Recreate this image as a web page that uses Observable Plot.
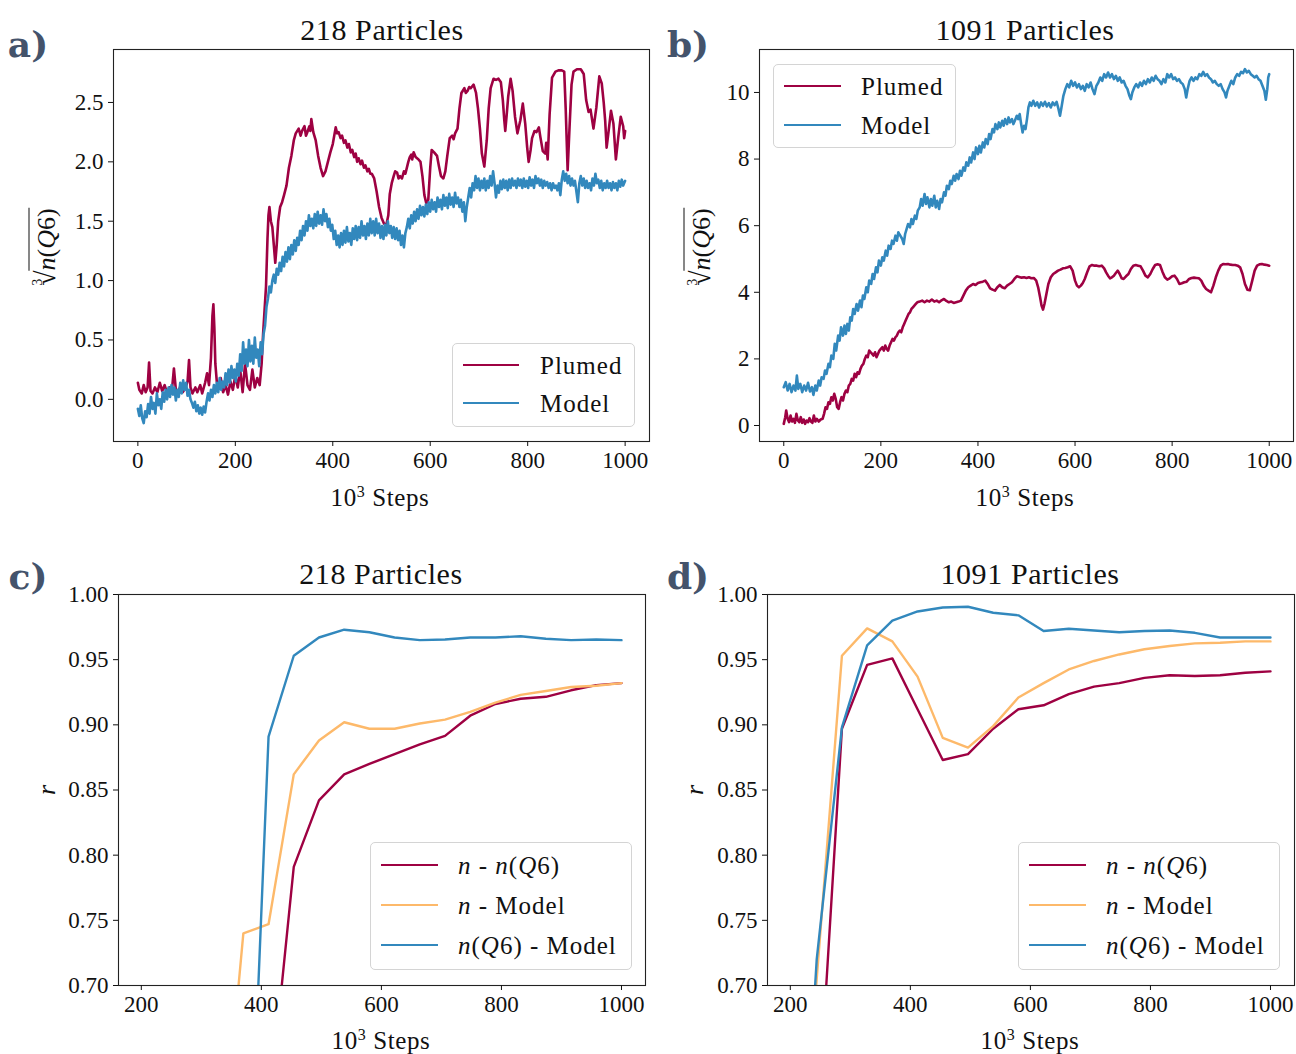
<!DOCTYPE html>
<html>
<head>
<meta charset="utf-8">
<script src="https://cdn.jsdelivr.net/npm/d3@7"></script>
<script src="https://cdn.jsdelivr.net/npm/@observablehq/plot@0.6"></script>
<style>
  body { margin: 0; background: #fff; }
  #root { position: relative; width: 1296px; height: 1054px; overflow: hidden; font-family: "Liberation Serif", serif; color: #111; }
  .lab { position: absolute; white-space: nowrap; line-height: 1; }
  .svgwrap { position: absolute; }
  .legend { position: absolute; border: 1px solid #d4d4d4; border-radius: 5px; background: rgba(255,255,255,0.85); box-sizing: border-box; }
  .legend .ln { position: absolute; height: 2.4px; }
  .legend .tx { position: absolute; font-size: 25px; letter-spacing: 1px; line-height: 1; transform: translateY(-50%); white-space: nowrap; }
</style>
</head>
<body>
<div id="root"></div>
<script>
// ---------------- DATA ----------------
const xTicksTop = [0, 200, 400, 600, 800, 1000];
const yTicksA = [0, 0.5, 1.0, 1.5, 2.0, 2.5];
const yTicksB = [0, 2, 4, 6, 8, 10];
const xTicksBottom = [200, 400, 600, 800, 1000];
const yTicksR = [0.70, 0.75, 0.80, 0.85, 0.90, 0.95, 1.00];

const titles = ["218 Particles", "1091 Particles", "218 Particles", "1091 Particles"];
const panelLetters = ["a)", "b)", "c)", "d)"];
const seriesTop = ["Plumed", "Model"];
const seriesBottom = ["<i>n</i> - <i>n</i>(<i>Q</i>6)", "<i>n</i> - Model", "<i>n</i>(<i>Q</i>6) - Model"];

// panel a: 218 particles, Plumed  [10^3 steps, cbrt n(Q6)]
const plumed218 = [[0,0.14],[3,0.08],[8,0.05],[12,0.12],[16,0.06],[20,0.10],[23,0.31],[26,0.07],[30,0.05],[35,0.10],[40,0.06],[45,0.14],[50,0.07],[55,0.12],[60,0.05],[65,0.10],[70,0.08],[74,0.26],[78,0.08],[82,0.05],[88,0.12],[92,0.06],[98,0.10],[102,0.15],[105,0.33],[108,0.10],[112,0.05],[118,0.10],[122,0.06],[128,0.12],[132,0.05],[138,0.14],[142,0.22],[146,0.12],[150,0.35],[153,0.70],[155,0.80],[157,0.60],[159,0.30],[162,0.15],[166,0.10],[170,0.18],[175,0.06],[180,0.12],[185,0.04],[190,0.15],[195,0.08],[200,0.20],[205,0.10],[210,0.25],[215,0.06],[220,0.30],[225,0.12],[230,0.08],[235,0.25],[240,0.10],[245,0.18],[250,0.12],[254,0.30],[257,0.55],[260,0.75],[263,0.95],[266,1.35],[268,1.55],[270,1.62],[273,1.50],[276,1.45],[279,1.30],[282,1.15],[285,1.30],[288,1.50],[292,1.62],[296,1.66],[300,1.72],[305,1.80],[310,1.95],[315,2.05],[320,2.18],[324,2.24],[330,2.28],[334,2.22],[337,2.26],[342,2.30],[345,2.22],[347,2.24],[352,2.30],[354,2.26],[356,2.36],[360,2.25],[365,2.18],[370,2.05],[375,1.95],[380,1.88],[385,1.92],[390,2.00],[395,2.08],[400,2.15],[406,2.29],[409,2.24],[412,2.25],[416,2.20],[419,2.22],[423,2.16],[426,2.18],[430,2.12],[433,2.15],[437,2.08],[440,2.10],[444,2.04],[447,2.07],[450,2.00],[453,2.03],[457,1.98],[460,2.01],[464,1.95],[467,1.97],[471,1.92],[474,1.94],[477,1.90],[480,1.90],[485,1.86],[490,1.75],[495,1.62],[500,1.53],[505,1.48],[510,1.47],[514,1.55],[517,1.73],[521,1.82],[525,1.88],[528,1.92],[532,1.91],[535,1.86],[538,1.88],[542,1.86],[546,1.92],[549,1.90],[555,2.00],[558,2.04],[561,2.06],[563,2.02],[566,2.08],[570,2.04],[576,2.02],[580,2.00],[584,1.88],[588,1.72],[592,1.65],[596,1.68],[600,1.95],[603,2.10],[608,2.08],[614,2.05],[618,1.96],[622,1.88],[627,1.86],[631,1.92],[635,2.05],[640,2.20],[645,2.22],[648,2.19],[651,2.24],[656,2.28],[660,2.45],[664,2.58],[670,2.62],[673,2.58],[677,2.60],[680,2.63],[683,2.62],[689,2.65],[694,2.58],[698,2.45],[702,2.28],[706,2.07],[711,1.96],[716,2.18],[720,2.45],[724,2.62],[730,2.70],[735,2.69],[740,2.70],[745,2.67],[749,2.52],[752,2.35],[754,2.26],[757,2.40],[760,2.55],[765,2.70],[769,2.60],[774,2.38],[779,2.24],[785,2.35],[790,2.49],[795,2.32],[799,2.12],[802,2.00],[806,2.10],[809,2.20],[814,2.26],[818,2.25],[823,2.29],[826,2.21],[831,2.09],[836,2.07],[838,2.16],[841,2.02],[845,2.40],[850,2.71],[857,2.76],[863,2.77],[870,2.77],[875,2.76],[878,2.45],[882,1.93],[886,2.30],[890,2.65],[894,2.76],[901,2.78],[909,2.78],[915,2.74],[920,2.52],[925,2.42],[929,2.44],[935,2.28],[941,2.46],[947,2.72],[952,2.66],[956,2.50],[959,2.35],[962,2.12],[967,2.29],[971,2.43],[976,2.32],[981,2.02],[986,2.21],[991,2.38],[996,2.30],[998,2.20],[1000,2.26]];

// panel a: 218 particles, Model
const model218 = [[0,-0.08],[3,-0.14],[6,-0.05],[9,-0.16],[12,-0.20],[15,-0.10],[18,-0.15],[21,-0.04],[24,-0.12],[27,0.02],[30,-0.08],[33,-0.03],[36,-0.12],[39,0.05],[42,-0.05],[45,0.00],[48,-0.08],[51,0.06],[54,-0.02],[57,0.08],[60,0.00],[63,0.10],[66,0.02],[69,0.12],[72,0.04],[75,0.10],[78,-0.01],[81,0.08],[84,0.02],[87,0.14],[90,0.05],[93,0.16],[96,0.08],[99,0.14],[102,0.03],[105,0.08],[108,0.00],[111,-0.03],[114,-0.07],[117,-0.02],[120,-0.10],[123,-0.05],[126,-0.12],[129,-0.07],[132,-0.13],[135,-0.06],[138,-0.11],[141,-0.02],[144,0.05],[147,-0.01],[150,0.08],[153,0.02],[156,0.12],[159,0.05],[162,0.14],[165,0.06],[168,0.18],[171,0.08],[174,0.15],[177,0.10],[180,0.22],[183,0.12],[186,0.25],[189,0.14],[192,0.28],[195,0.18],[198,0.25],[201,0.15],[204,0.30],[207,0.20],[210,0.38],[213,0.24],[216,0.48],[219,0.30],[222,0.42],[225,0.28],[228,0.50],[231,0.32],[234,0.45],[237,0.30],[240,0.52],[243,0.35],[246,0.42],[249,0.28],[252,0.48],[255,0.38],[258,0.55],[261,0.62],[264,0.78],[267,0.85],[270,0.95],[273,0.90],[276,1.00],[279,1.05],[282,0.98],[285,1.10],[288,1.05],[291,1.15],[294,1.08],[297,1.20],[300,1.12],[303,1.24],[306,1.16],[309,1.28],[312,1.18],[315,1.30],[318,1.22],[321,1.34],[324,1.25],[327,1.36],[330,1.30],[333,1.42],[336,1.34],[339,1.46],[342,1.38],[345,1.50],[348,1.42],[351,1.55],[354,1.46],[357,1.52],[360,1.44],[363,1.56],[366,1.46],[369,1.58],[372,1.48],[375,1.55],[378,1.47],[381,1.60],[384,1.50],[387,1.56],[390,1.45],[393,1.52],[396,1.42],[399,1.47],[402,1.35],[405,1.42],[408,1.30],[411,1.38],[414,1.28],[417,1.40],[420,1.30],[423,1.42],[426,1.32],[429,1.45],[432,1.33],[435,1.40],[438,1.30],[441,1.44],[444,1.35],[447,1.46],[450,1.34],[453,1.45],[456,1.36],[459,1.50],[462,1.38],[465,1.46],[468,1.35],[471,1.48],[474,1.38],[477,1.52],[480,1.40],[483,1.50],[486,1.38],[489,1.52],[492,1.40],[495,1.48],[498,1.36],[501,1.46],[504,1.35],[507,1.47],[510,1.38],[513,1.50],[516,1.40],[519,1.46],[522,1.36],[525,1.45],[528,1.35],[531,1.44],[534,1.34],[537,1.42],[540,1.30],[543,1.38],[546,1.28],[549,1.40],[552,1.45],[555,1.52],[558,1.44],[561,1.55],[564,1.48],[567,1.58],[570,1.50],[573,1.60],[576,1.52],[579,1.63],[582,1.55],[585,1.62],[588,1.54],[591,1.64],[594,1.56],[597,1.66],[600,1.58],[603,1.68],[606,1.60],[609,1.66],[612,1.58],[615,1.70],[618,1.62],[621,1.68],[624,1.60],[627,1.72],[630,1.63],[633,1.70],[636,1.61],[639,1.73],[642,1.64],[645,1.70],[648,1.62],[651,1.74],[654,1.65],[657,1.70],[660,1.62],[663,1.68],[666,1.58],[669,1.66],[672,1.50],[675,1.62],[678,1.70],[681,1.78],[684,1.70],[687,1.82],[690,1.76],[693,1.88],[696,1.78],[699,1.86],[702,1.76],[705,1.84],[708,1.78],[711,1.86],[714,1.76],[717,1.84],[720,1.78],[723,1.88],[726,1.80],[729,1.92],[732,1.82],[735,1.70],[738,1.80],[741,1.74],[744,1.84],[747,1.77],[750,1.85],[753,1.78],[756,1.84],[759,1.76],[762,1.85],[765,1.78],[768,1.86],[771,1.80],[774,1.84],[777,1.78],[780,1.86],[783,1.80],[786,1.85],[789,1.78],[792,1.86],[795,1.79],[798,1.84],[801,1.78],[804,1.87],[807,1.80],[810,1.85],[813,1.78],[816,1.88],[819,1.82],[822,1.86],[825,1.80],[828,1.85],[831,1.78],[834,1.84],[837,1.80],[840,1.83],[843,1.78],[846,1.82],[849,1.76],[852,1.82],[855,1.78],[858,1.80],[861,1.76],[864,1.82],[867,1.72],[870,1.85],[873,1.92],[876,1.84],[879,1.90],[882,1.82],[885,1.88],[888,1.80],[891,1.86],[894,1.80],[897,1.84],[900,1.75],[903,1.66],[906,1.82],[909,1.88],[912,1.80],[915,1.86],[918,1.78],[921,1.84],[924,1.78],[927,1.82],[930,1.76],[933,1.86],[936,1.80],[939,1.90],[942,1.82],[945,1.85],[948,1.78],[951,1.84],[954,1.76],[957,1.82],[960,1.78],[963,1.84],[966,1.78],[969,1.82],[972,1.76],[975,1.83],[978,1.78],[981,1.82],[984,1.76],[987,1.84],[990,1.79],[993,1.85],[996,1.80],[1000,1.84]];

// panel b: 1091 particles, Plumed
const plumed1091 = [[0,0.05],[3,0.25],[5,0.45],[8,0.20],[11,0.10],[14,0.30],[17,0.12],[20,0.20],[23,0.08],[26,0.35],[29,0.15],[32,0.10],[35,0.25],[38,0.08],[41,0.18],[44,0.05],[47,0.15],[50,0.10],[53,0.22],[56,0.12],[59,0.08],[62,0.30],[65,0.12],[68,0.20],[72,0.12],[76,0.18],[80,0.20],[83,0.35],[86,0.55],[89,0.50],[92,0.70],[95,0.65],[98,0.85],[101,0.75],[104,0.95],[107,0.80],[110,0.55],[113,0.50],[116,0.70],[119,0.85],[122,0.75],[125,0.95],[128,1.05],[131,1.00],[134,1.20],[137,1.25],[140,1.40],[143,1.35],[146,1.55],[149,1.45],[152,1.60],[155,1.55],[158,1.70],[161,1.80],[164,1.85],[167,2.00],[170,2.10],[173,2.05],[176,2.25],[179,2.20],[182,2.15],[185,2.10],[188,2.20],[191,2.05],[194,2.15],[197,2.25],[200,2.30],[203,2.35],[206,2.25],[209,2.40],[212,2.30],[215,2.25],[218,2.40],[221,2.50],[224,2.60],[227,2.55],[230,2.65],[233,2.70],[236,2.80],[239,2.85],[242,2.80],[245,2.95],[248,3.05],[251,3.15],[254,3.25],[257,3.35],[260,3.40],[263,3.50],[266,3.55],[269,3.60],[272,3.65],[275,3.70],[280,3.72],[285,3.75],[290,3.70],[295,3.75],[300,3.72],[305,3.78],[310,3.72],[315,3.75],[320,3.70],[325,3.76],[330,3.80],[335,3.74],[340,3.70],[345,3.72],[350,3.68],[355,3.70],[360,3.72],[365,3.75],[370,3.90],[375,4.05],[380,4.15],[385,4.20],[390,4.25],[395,4.22],[400,4.28],[405,4.30],[410,4.32],[415,4.35],[420,4.25],[425,4.12],[430,4.08],[435,4.05],[440,4.15],[445,4.22],[450,4.15],[455,4.12],[460,4.20],[465,4.25],[470,4.30],[475,4.40],[480,4.48],[485,4.46],[490,4.44],[495,4.45],[500,4.43],[505,4.45],[510,4.42],[515,4.43],[520,4.35],[524,4.15],[528,3.85],[531,3.60],[534,3.48],[537,3.65],[541,3.95],[545,4.25],[550,4.45],[555,4.55],[560,4.60],[565,4.65],[570,4.68],[575,4.72],[580,4.73],[585,4.75],[590,4.78],[595,4.65],[600,4.35],[604,4.20],[608,4.15],[612,4.20],[616,4.28],[620,4.40],[625,4.60],[630,4.78],[635,4.82],[640,4.80],[645,4.80],[650,4.78],[655,4.80],[660,4.72],[664,4.60],[668,4.50],[672,4.42],[676,4.45],[680,4.50],[684,4.58],[688,4.65],[692,4.55],[696,4.42],[700,4.40],[705,4.48],[710,4.55],[715,4.70],[720,4.80],[725,4.82],[730,4.80],[735,4.78],[740,4.65],[745,4.50],[750,4.45],[755,4.55],[760,4.70],[765,4.82],[770,4.84],[775,4.82],[780,4.62],[785,4.45],[790,4.38],[795,4.42],[800,4.48],[805,4.50],[810,4.40],[815,4.25],[820,4.27],[825,4.30],[830,4.32],[835,4.40],[840,4.43],[845,4.44],[850,4.43],[855,4.42],[860,4.35],[865,4.20],[870,4.10],[875,4.05],[880,4.00],[885,4.20],[890,4.45],[895,4.65],[900,4.80],[905,4.85],[910,4.84],[915,4.85],[920,4.83],[925,4.82],[930,4.82],[935,4.80],[940,4.75],[945,4.55],[950,4.25],[955,4.08],[960,4.06],[965,4.35],[970,4.65],[975,4.80],[980,4.84],[985,4.85],[990,4.83],[995,4.82],[1000,4.80]];

// panel b: 1091 particles, Model
const model1091 = [[0,1.15],[4,1.30],[8,1.05],[12,1.25],[16,1.00],[20,1.20],[24,1.05],[27,1.50],[30,1.10],[34,1.25],[38,1.00],[42,1.20],[46,1.05],[50,1.28],[54,1.02],[58,1.15],[61,0.92],[65,1.20],[68,1.05],[72,1.35],[75,1.20],[78,1.45],[82,1.40],[85,1.65],[88,1.55],[92,1.85],[95,1.75],[98,2.10],[102,2.00],[105,2.45],[108,2.25],[112,2.70],[115,2.55],[118,2.95],[122,2.70],[125,3.00],[128,2.75],[131,3.05],[134,2.85],[137,3.25],[140,3.15],[143,3.50],[146,3.35],[150,3.65],[153,3.45],[157,3.75],[160,3.55],[163,3.90],[166,3.80],[170,4.15],[173,4.00],[176,4.35],[180,4.25],[183,4.55],[186,4.40],[190,4.75],[193,4.60],[196,4.95],[200,4.80],[203,5.05],[206,4.95],[210,5.25],[213,5.10],[216,5.40],[220,5.30],[223,5.55],[226,5.45],[230,5.70],[233,5.55],[236,5.80],[240,5.70],[244,5.60],[247,5.45],[250,5.75],[253,5.90],[256,6.05],[260,5.95],[263,6.20],[266,6.05],[270,6.30],[273,6.20],[276,6.45],[280,6.55],[283,6.80],[286,6.60],[290,6.95],[293,6.65],[296,6.85],[300,6.55],[303,6.80],[306,6.60],[310,6.90],[313,6.55],[316,6.75],[320,6.50],[323,6.80],[326,6.70],[330,7.00],[333,6.90],[336,7.20],[340,7.10],[343,7.35],[346,7.25],[350,7.50],[353,7.35],[356,7.55],[360,7.40],[363,7.65],[366,7.50],[370,7.75],[373,7.65],[376,7.90],[380,7.80],[383,8.05],[386,7.90],[390,8.20],[393,8.00],[396,8.35],[400,8.15],[403,8.40],[406,8.20],[410,8.50],[413,8.35],[416,8.60],[420,8.45],[423,8.75],[426,8.60],[430,8.90],[433,8.80],[436,9.05],[440,8.90],[443,9.10],[446,8.95],[450,9.15],[453,9.00],[456,9.20],[460,9.05],[463,9.25],[466,9.10],[470,9.20],[473,9.05],[476,9.15],[480,9.30],[483,9.20],[486,9.35],[489,9.05],[492,8.80],[495,9.00],[498,8.90],[501,9.20],[504,9.55],[507,9.70],[510,9.60],[514,9.75],[518,9.60],[522,9.70],[526,9.55],[530,9.70],[534,9.60],[538,9.72],[542,9.58],[546,9.68],[550,9.55],[554,9.70],[558,9.62],[562,9.72],[566,9.50],[569,9.30],[572,9.55],[576,9.90],[580,10.10],[584,10.25],[588,10.15],[592,10.35],[596,10.20],[600,10.30],[604,10.15],[608,10.25],[612,10.10],[616,10.20],[620,10.05],[624,10.25],[628,10.15],[632,10.30],[636,10.10],[640,9.95],[644,10.20],[648,10.30],[652,10.45],[656,10.35],[660,10.55],[664,10.45],[668,10.60],[672,10.45],[676,10.55],[680,10.40],[684,10.50],[688,10.35],[692,10.45],[696,10.30],[700,10.35],[704,10.20],[708,10.10],[712,9.90],[715,9.80],[718,10.00],[722,10.15],[726,10.25],[730,10.15],[734,10.30],[738,10.20],[742,10.35],[746,10.25],[750,10.40],[754,10.30],[758,10.45],[762,10.35],[766,10.50],[770,10.40],[774,10.35],[778,10.25],[782,10.40],[786,10.30],[790,10.55],[794,10.45],[798,10.55],[802,10.40],[806,10.45],[810,10.35],[814,10.40],[818,10.30],[822,10.25],[826,10.10],[829,9.85],[832,10.10],[836,10.35],[840,10.45],[844,10.35],[848,10.45],[852,10.40],[856,10.55],[860,10.50],[864,10.62],[868,10.50],[872,10.55],[876,10.45],[880,10.40],[884,10.30],[888,10.35],[892,10.25],[896,10.20],[900,10.25],[904,10.10],[908,10.00],[911,9.85],[914,10.05],[918,10.20],[922,10.35],[926,10.25],[930,10.45],[934,10.55],[938,10.50],[942,10.62],[946,10.58],[950,10.70],[954,10.60],[958,10.65],[962,10.55],[966,10.50],[970,10.45],[974,10.50],[978,10.40],[982,10.35],[986,10.20],[990,10.05],[993,9.78],[996,10.10],[998,10.45],[1000,10.55]];

// panels c, d: correlation r vs 10^3 steps (null = below the visible range, not read)
const stepsR = [202, 244, 286, 328, 370, 412, 454, 496, 538, 580, 622, 664, 706, 748, 790, 832, 874, 916, 958, 1000];
const rNQ6_218   = [null, null, null, null, null, 0.60, 0.791, 0.842, 0.862, 0.870, 0.8775, 0.885, 0.8915, 0.907, 0.916, 0.920, 0.9215, 0.9265, 0.9305, 0.932];
const rNModel_218 = [null, null, null, 0.53, 0.740, 0.747, 0.862, 0.888, 0.902, 0.897, 0.897, 0.901, 0.904, 0.910, 0.917, 0.923, 0.926, 0.929, 0.930, 0.932];
const rQ6Model_218 = [null, null, null, null, 0.42, 0.891, 0.953, 0.967, 0.973, 0.971, 0.967, 0.965, 0.9655, 0.967, 0.967, 0.968, 0.966, 0.965, 0.9655, 0.965];
const rNQ6_1091   = [null, 0.58, 0.897, 0.946, 0.951, 0.912, 0.873, 0.8775, 0.897, 0.912, 0.915, 0.9235, 0.9293, 0.932, 0.936, 0.938, 0.9375, 0.938, 0.940, 0.941];
const rNModel_1091 = [0.45, 0.705, 0.953, 0.974, 0.964, 0.937, 0.890, 0.8825, 0.899, 0.921, 0.932, 0.9425, 0.949, 0.954, 0.958, 0.9605, 0.9625, 0.963, 0.964, 0.964];
const rQ6Model_1091 = [0.40, 0.72, 0.898, 0.961, 0.980, 0.987, 0.990, 0.9906, 0.986, 0.984, 0.972, 0.9737, 0.9724, 0.971, 0.972, 0.9724, 0.9706, 0.967, 0.967, 0.967];

// ---------------- STYLE ----------------
const C_RED = "#9e0142", C_BLUE = "#3288bd", C_ORANGE = "#fdb96a";
const FONT = "Liberation Serif, serif";
const root = document.getElementById("root");

function toRows(xs, ys) {
  const out = [];
  xs.forEach((x, i) => { if (ys[i] != null) out.push({x, y: ys[i]}); });
  return out;
}

function panel(p) {
  const svg = Plot.plot({
    width: p.width, height: p.height,
    marginLeft: p.ml, marginRight: p.mr, marginTop: p.mt, marginBottom: p.mb,
    x: {domain: p.xDomain, label: null},
    y: {domain: p.yDomain, label: null},
    style: {fontFamily: FONT, fontSize: "23px", color: "#111", background: "transparent", overflow: "visible"},
    marks: [
      ...p.lines.map(l => Plot.line(l.data, {x: "x", y: "y", stroke: l.color, strokeWidth: p.sw, strokeLinejoin: "round", clip: true})),
      Plot.frame({stroke: "#222", strokeWidth: 1.1}),
      Plot.axisX(p.xTicks, {tickSize: 5, tickPadding: 5, fontSize: 23, label: null, tickFormat: d => String(d)}),
      Plot.axisY(p.yTicks, {tickSize: 5, tickPadding: 5, fontSize: 23, label: null, tickFormat: p.yFmt})
    ]
  });
  const w = document.createElement("div");
  w.className = "svgwrap";
  w.style.left = p.left + "px"; w.style.top = p.top + "px";
  w.appendChild(svg);
  root.appendChild(w);
}

function label(html, cx, cy, css, rotate) {
  const d = document.createElement("div");
  d.className = "lab";
  d.innerHTML = html;
  d.style.left = cx + "px"; d.style.top = cy + "px";
  d.style.transform = "translate(-50%,-50%)" + (rotate ? " rotate(-90deg)" : "");
  Object.assign(d.style, css || {});
  root.appendChild(d);
}

function legend(left, top, w, h, entries, rowY, lineX0, lineX1, textX) {
  const d = document.createElement("div");
  d.className = "legend";
  Object.assign(d.style, {left: left + "px", top: top + "px", width: w + "px", height: h + "px"});
  entries.forEach((e, i) => {
    const ln = document.createElement("div");
    ln.className = "ln";
    Object.assign(ln.style, {left: lineX0 + "px", width: (lineX1 - lineX0) + "px", top: (rowY[i] - 1) + "px", background: e.color});
    d.appendChild(ln);
    const t = document.createElement("div");
    t.className = "tx";
    t.innerHTML = e.label;
    Object.assign(t.style, {left: textX + "px", top: rowY[i] + "px"});
    d.appendChild(t);
  });
  root.appendChild(d);
}

const fmt1 = d3.format(".1f"), fmt2 = d3.format(".2f");
const pair = arr => arr.map(([x, y]) => ({x, y}));

// panel a
panel({left: 0, top: 0, width: 660, height: 520, ml: 113, mr: 11, mt: 49, mb: 79, sw: 2.6,
  xDomain: [-50, 1050], yDomain: [-0.355, 2.946], xTicks: xTicksTop, yTicks: yTicksA, yFmt: fmt1,
  lines: [{data: pair(plumed218), color: C_RED}, {data: pair(model218), color: C_BLUE}]});
// panel b
panel({left: 650, top: 0, width: 646, height: 520, ml: 109, mr: 3, mt: 49, mb: 79, sw: 2.6,
  xDomain: [-50, 1050], yDomain: [-0.48, 11.29], xTicks: xTicksTop, yTicks: yTicksB, yFmt: d => String(d),
  lines: [{data: pair(plumed1091), color: C_RED}, {data: pair(model1091), color: C_BLUE}]});
// panel c
panel({left: 0, top: 540, width: 660, height: 514, ml: 118, mr: 15, mt: 54, mb: 69, sw: 2.4,
  xDomain: [162, 1040], yDomain: [0.70, 1.00], xTicks: xTicksBottom, yTicks: yTicksR, yFmt: fmt2,
  lines: [{data: toRows(stepsR, rNQ6_218), color: C_RED}, {data: toRows(stepsR, rNModel_218), color: C_ORANGE}, {data: toRows(stepsR, rQ6Model_218), color: C_BLUE}]});
// panel d
panel({left: 650, top: 540, width: 646, height: 514, ml: 117, mr: 2, mt: 54, mb: 69, sw: 2.4,
  xDomain: [162, 1040], yDomain: [0.70, 1.00], xTicks: xTicksBottom, yTicks: yTicksR, yFmt: fmt2,
  lines: [{data: toRows(stepsR, rNQ6_1091), color: C_RED}, {data: toRows(stepsR, rNModel_1091), color: C_ORANGE}, {data: toRows(stepsR, rQ6Model_1091), color: C_BLUE}]});

// titles
const titleCss = {fontSize: "30px", letterSpacing: "0.6px"};
label(titles[0], 382, 30, titleCss);
label(titles[1], 1025, 30, titleCss);
label(titles[2], 381, 574, titleCss);
label(titles[3], 1030, 574, titleCss);

// panel letters
const letterCss = {fontSize: "36px", fontWeight: "bold", color: "#44536b", fontFamily: "DejaVu Serif, serif"};
label(panelLetters[0], 28, 44, letterCss);
label(panelLetters[1], 688, 44, letterCss);
label(panelLetters[2], 28, 576, letterCss);
label(panelLetters[3], 688, 576, letterCss);

// x labels
const xl = "10<sup style='font-size:16px;vertical-align:9px;line-height:0'>3</sup> Steps";
const xlCss = {fontSize: "25px", letterSpacing: "0.6px"};
label(xl, 380, 497, xlCss);
label(xl, 1025, 497, xlCss);
label(xl, 381, 1040, xlCss);
label(xl, 1030, 1040, xlCss);

// y labels
const yl = "<span style='font-size:14px;vertical-align:13px;margin-right:-7px'>3</span><span style='font-size:28px'>√</span><span style='border-top:1.5px solid #111;padding-top:2px'><i>n</i>(<i>Q</i>6)</span>";
label(yl, 45, 247, {fontSize: "26px"}, true);
label(yl, 700, 247, {fontSize: "26px"}, true);
label("<i>r</i>", 47, 790, {fontSize: "26px"}, true);
label("<i>r</i>", 695, 790, {fontSize: "26px"}, true);

// legends
const topEntries = [{label: seriesTop[0], color: C_RED}, {label: seriesTop[1], color: C_BLUE}];
legend(452, 343, 183, 84, topEntries, [21, 59], 10, 66, 87);
legend(773, 64, 183, 84, topEntries, [21, 60], 10, 67, 87);
const botEntries = [{label: seriesBottom[0], color: C_RED}, {label: seriesBottom[1], color: C_ORANGE}, {label: seriesBottom[2], color: C_BLUE}];
legend(370, 842, 262, 128, botEntries, [22, 62, 102], 10, 67, 87);
legend(1018, 842, 262, 128, botEntries, [22, 62, 102], 10, 67, 87);
</script>
</body>
</html>
